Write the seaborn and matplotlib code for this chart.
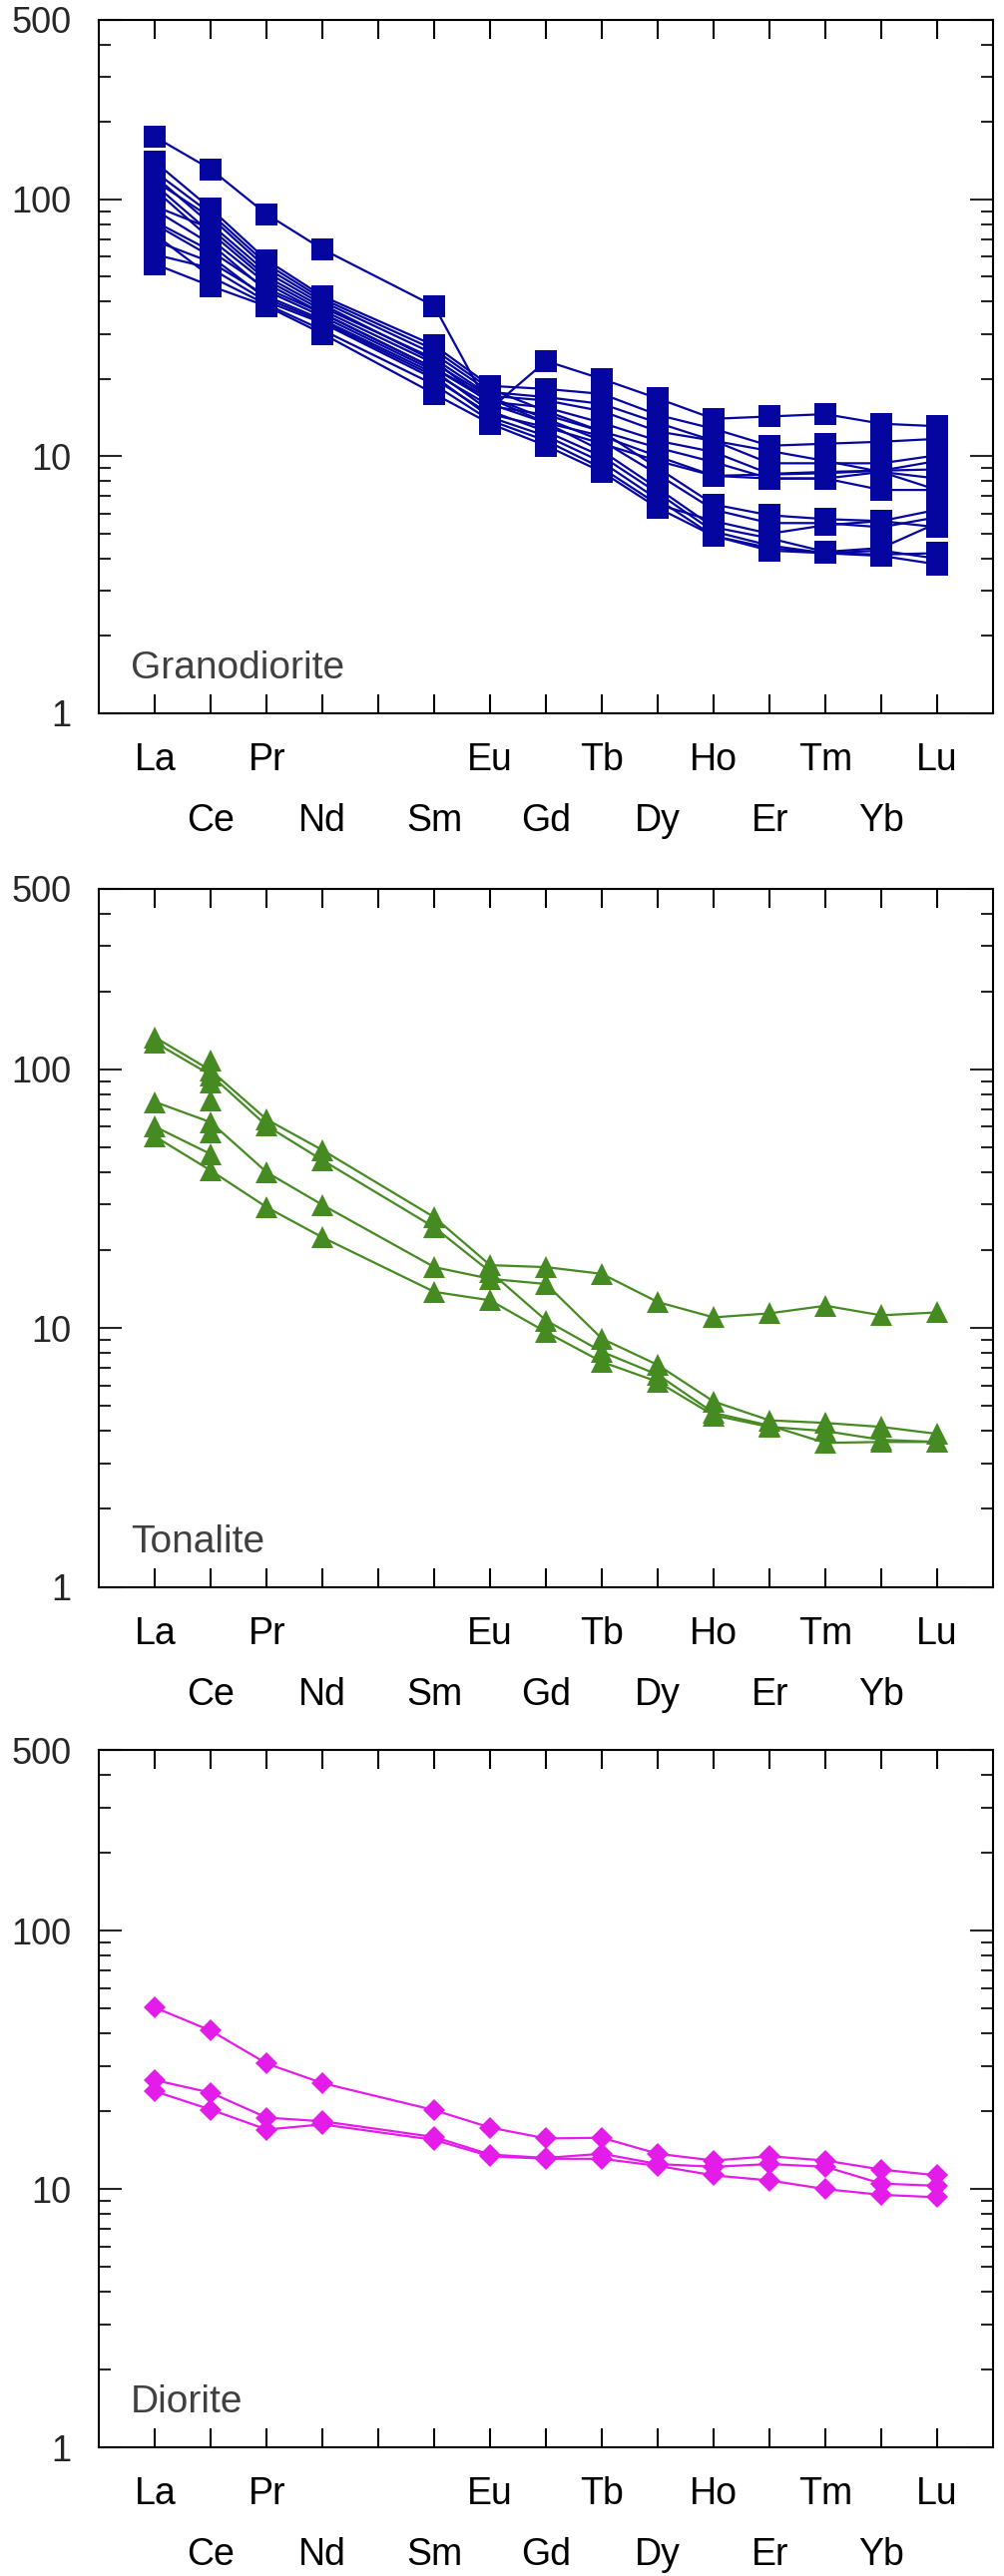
import numpy as np
import pandas as pd
import matplotlib
matplotlib.use("Agg")
import matplotlib.pyplot as plt
import seaborn as sns
from matplotlib.ticker import FixedLocator, NullFormatter

# REE order (Pm has a tick but no data / label)
ree = ["La", "Ce", "Pr", "Nd", "Pm", "Sm", "Eu", "Gd", "Tb", "Dy", "Ho", "Er", "Tm", "Yb", "Lu"]
row1_labels = ["La", "Pr", "", "Eu", "Tb", "Ho", "Tm", "Lu"]
row2_labels = ["Ce", "Nd", "Sm", "Gd", "Dy", "Er", "Yb"]
elements = ["La", "Ce", "Pr", "Nd", "Sm", "Eu", "Gd", "Tb", "Dy", "Ho", "Er", "Tm", "Yb", "Lu"]

# chondrite-normalised values
granodiorite = [
    [175, 131, 87.5, 64, 38.4, 15.3, 23.5, 20.0, 16.8, 14.0, 14.3, 14.6, 13.4, 13.1],
    [140, 92, 58, 42, 27, 18.8, 18.3, 17.5, 14.5, 12.8, 11.0, 11.2, 11.4, 11.7],
    [118, 85, 54, 40, 25, 17.8, 17.0, 16.0, 13.5, 11.5, 10.5, 9.6, 8.7, 7.4],
    [94, 77, 50, 38, 24, 17.2, 16.5, 15.0, 12.5, 11.5, 9.4, 9.4, 9.4, 10.1],
    [82, 63, 45, 36, 22, 16.3, 15.5, 13.5, 11.5, 10.4, 8.55, 8.7, 8.8, 8.9],
    [69, 57, 42, 34, 21, 15.7, 14.5, 12.5, 10.8, 9.5, 8.2, 8.2, 7.4, 7.4],
    [123, 80, 52, 39, 23.5, 16.0, 13.5, 12.0, 10.0, 8.4, 8.2, 8.2, 8.7, 8.2],
    [61, 54, 40, 33, 20, 14.6, 13.0, 11.2, 9.6, 8.4, 8.5, 8.6, 8.8, 9.6],
    [128, 88, 56, 41, 26, 18.3, 15.0, 12.5, 9.0, 6.5, 5.9, 5.7, 5.6, 6.2],
    [114, 74, 48.5, 37, 23, 17.0, 14.0, 11.5, 8.5, 6.2, 5.5, 5.5, 5.3, 5.8],
    [109, 70, 47, 36, 22, 16.8, 13.5, 10.5, 7.5, 5.3, 4.8, 4.25, 4.4, 5.5],
    [91, 67, 44, 35, 21.5, 15.0, 12.5, 10.0, 7.2, 5.1, 4.5, 4.2, 4.15, 4.2],
    [80, 60, 41, 33.5, 20.5, 14.2, 12.0, 9.5, 6.8, 4.9, 4.4, 4.2, 4.1, 3.8],
    [73, 50, 39, 31, 19, 13.8, 11.5, 9.0, 6.5, 5.6, 5.0, 5.4, 5.6, 5.3],
    [56, 46, 38.4, 30, 17.5, 13.4, 11.0, 8.7, 6.3, 4.9, 4.3, 4.2, 4.3, 4.0],
]

nan = np.nan
tonalite = [
    [133, 99, 64, 48.7, 26.8, 17.5, 17.2, 16.2, 12.6, 11.0, 11.4, 12.2, 11.2, 11.5],
    [127, 95, 60.5, 44.5, 24.5, 16.5, 10.7, 8.1, 6.6, 4.7, 4.2, 3.6, 3.63, 3.63],
    [74.8, 62.4, 40, 29.9, 17.2, 15.5, 14.8, 9.1, 7.2, 5.2, 4.4, 4.3, 4.15, 3.9],
    [55, 40.6, 29.3, 22.4, 13.8, 12.8, 9.65, 7.4, 6.2, 4.6, 4.15, 4.0, 3.7, 3.63],
    [60, 47, nan, nan, nan, nan, nan, nan, nan, nan, nan, nan, nan, nan],
    [nan, 108, nan, nan, nan, nan, nan, nan, nan, nan, nan, nan, nan, nan],
    [nan, 89, nan, nan, nan, nan, nan, nan, nan, nan, nan, nan, nan, nan],
    [nan, 75.7, nan, nan, nan, nan, nan, nan, nan, nan, nan, nan, nan, nan],
    [nan, 57, nan, nan, nan, nan, nan, nan, nan, nan, nan, nan, nan, nan],
]

diorite = [
    [50.4, 41, 30.6, 25.7, 20.2, 17.3, 15.7, 15.8, 13.7, 12.9, 13.4, 12.9, 11.9, 11.3],
    [26.4, 23.6, 18.9, 18.3, 15.9, 13.6, 13.2, 13.7, 12.5, 12.2, 12.5, 12.2, 10.5, 10.3],
    [23.9, 20.3, 17.0, 17.8, 15.5, 13.4, 13.1, 13.1, 12.3, 11.3, 10.8, 10.0, 9.5, 9.3],
]

groups = [
    ("Granodiorite", granodiorite, "#0505A0", "s", 15.5),
    ("Tonalite", tonalite, "#468A22", "^", 16.5),
    ("Diorite", diorite, "#E41CEA", "D", 11.0),
]


def to_long(rows):
    recs = []
    for i, row in enumerate(rows):
        for el, v in zip(elements, row):
            if not np.isnan(v):
                recs.append({"sample": i, "pos": ree.index(el) + 1, "value": v})
    return pd.DataFrame(recs)


sns.set_style("white")
plt.rcParams["font.family"] = ["Liberation Sans", "DejaVu Sans"]

fig = plt.figure(figsize=(10.06, 25.82), dpi=100)
boxes = [
    [0.0987, 0.7231, 0.8904, 0.2692],
    [0.0987, 0.3840, 0.8904, 0.2711],
    [0.0987, 0.0499, 0.8904, 0.2707],
]

for (name, rows, color, marker, ms), box in zip(groups, boxes):
    ax = fig.add_axes(box)
    df = to_long(rows)
    sns.lineplot(data=df, x="pos", y="value", units="sample", estimator=None,
                 sort=False, color=color, marker=marker, markersize=ms,
                 markeredgewidth=0, linewidth=1.6, ax=ax, legend=False)
    ax.set_yscale("log")
    ax.set_xlim(0, 16)
    ax.set_ylim(1, 500)
    ax.set_xlabel("")
    ax.set_ylabel("")

    # x ticks: two staggered rows of labels
    ax.xaxis.set_major_locator(FixedLocator(list(range(1, 16, 2))))
    ax.xaxis.set_minor_locator(FixedLocator(list(range(2, 16, 2))))
    ax.set_xticklabels(row1_labels)
    ax.set_xticklabels(row2_labels, minor=True)
    ax.tick_params(axis="x", which="major", pad=21)
    ax.tick_params(axis="x", which="minor", pad=65)
    ax.tick_params(axis="x", which="both", direction="in", length=13.7, width=1.5,
                   top=True, bottom=True, labelsize=27, colors="black")

    # y ticks
    ax.yaxis.set_major_locator(FixedLocator([1, 10, 100, 500]))
    ax.set_yticklabels(["1", "10", "100", "500"])
    minors = [m * d for d in (1, 10, 100) for m in range(2, 10) if m * d < 500]
    ax.yaxis.set_minor_locator(FixedLocator(minors))
    ax.yaxis.set_minor_formatter(NullFormatter())
    ax.tick_params(axis="y", which="major", direction="in", length=16.5, width=1.5,
                   left=True, right=True, labelsize=26, pad=20)
    ax.tick_params(axis="y", which="minor", direction="in", length=8.6, width=1.5,
                   left=True, right=True)

    for sp in ax.spines.values():
        sp.set_visible(True)
        sp.set_linewidth(1.5)
        sp.set_color("black")

    ax.text(0.035, 0.05, name, transform=ax.transAxes, fontsize=28,
            color="#404040", ha="left", va="baseline")

plt.savefig("out.png", dpi=100)
plt.close()
